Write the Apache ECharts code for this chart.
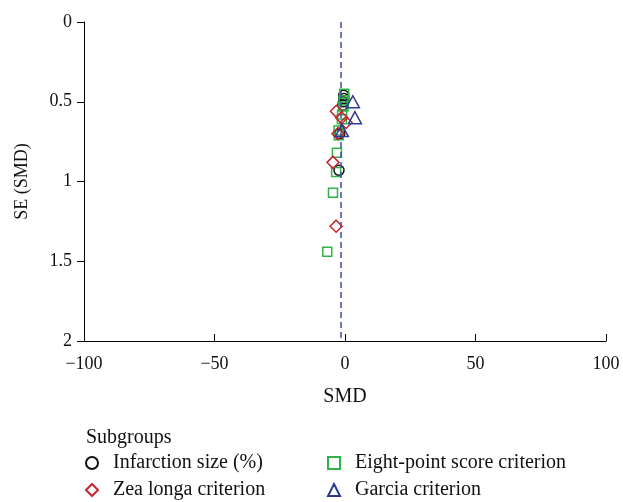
<!DOCTYPE html>
<html><head><meta charset="utf-8">
<script src="https://cdn.jsdelivr.net/npm/echarts@6/dist/echarts.min.js"></script>
<style>html,body{margin:0;padding:0;background:#fff}#c{width:623px;height:502px}</style>
</head><body><div id="c"></div>
<script>
// [SMD, SE(SMD)]
var infarction = [[-0.5,0.46],[-0.4,0.48],[-0.6,0.50],[-0.8,0.52],[-2.0,0.70],[-2.3,0.93]];
var eightPoint = [[-0.3,0.45],[-0.5,0.49],[-0.6,0.53],[-1.1,0.58],[-1.2,0.61],[-2.5,0.68],[-2.4,0.71],[-3.1,0.82],[-3.4,0.94],[-4.6,1.07],[-6.8,1.44]];
var zeaLonga = [[-3.3,0.56],[-1.3,0.60],[0.4,0.63],[-2.7,0.70],[-4.6,0.88],[-3.4,1.28]];
var garcia = [[3.0,0.50],[3.8,0.60],[-1.2,0.68]];
var pooledSMD = -1.5;
var xTicks = [-100,-50,0,50,100];
var yTicks = [0,0.5,1,1.5,2];
var names = ['Infarction size (%)','Eight-point score criterion','Zea longa criterion','Garcia criterion'];

var font = '"Liberation Serif", "DejaVu Serif", serif';
var chart = echarts.init(document.getElementById('c'), null, {renderer:'canvas'});
function sty(c){return {color:'rgba(0,0,0,0)', borderColor:c, borderWidth:1.5, opacity:1};}
function leg(name,left,top){
  return {data:[name],left:left,top:top,itemWidth:12,itemHeight:12,padding:0,
    textStyle:{fontFamily:font,fontSize:20,color:'#111',padding:[0,0,0,10]}};
}
chart.setOption({
  animation:false,
  backgroundColor:'#fff',
  grid:{left:84,right:17,top:22,bottom:161,containLabel:false},
  xAxis:{type:'value',min:xTicks[0],max:xTicks[xTicks.length-1],interval:50,
    name:'SMD',nameLocation:'middle',nameGap:46,
    nameTextStyle:{fontFamily:font,fontSize:20,color:'#111'},
    axisLine:{onZero:false,lineStyle:{color:'#000',width:1}},
    axisTick:{inside:true,length:7,lineStyle:{color:'#000'}},
    axisLabel:{fontFamily:font,fontSize:18,color:'#111',margin:14,
      formatter:function(v){return v<0?'\u2212'+Math.abs(v):String(v);}},
    splitLine:{show:false}},
  yAxis:{type:'value',inverse:true,min:yTicks[0],max:yTicks[yTicks.length-1],interval:0.5,
    name:'SE (SMD)',nameLocation:'middle',nameGap:53,nameRotate:90,
    nameTextStyle:{fontFamily:font,fontSize:18,color:'#111'},
    axisLine:{show:true,onZero:false,lineStyle:{color:'#000',width:1}},
    axisTick:{show:true,length:7,lineStyle:{color:'#000'}},
    axisLabel:{fontFamily:font,fontSize:18,color:'#111',margin:12},
    splitLine:{show:false}},
  title:{text:'Subgroups',left:86,top:428,padding:0,textStyle:{fontFamily:font,fontSize:20,fontWeight:'normal',color:'#111'}},
  legend:[
    leg(names[0],85,453),
    leg(names[1],327,453),
    leg(names[2],85,480),
    leg(names[3],327,480)
  ],
  series:[
    {name:names[0],type:'scatter',symbol:'circle',symbolSize:10,data:infarction,itemStyle:sty('#111'),z:3},
    {name:names[1],type:'scatter',symbol:'rect',symbolSize:9,data:eightPoint,itemStyle:sty('#2db34a'),z:4,
      markLine:{silent:true,symbol:'none',label:{show:false},lineStyle:{color:'#3c4ea6',type:[6,4],width:1.5},
        data:[[{coord:[pooledSMD,0]},{coord:[pooledSMD,2]}]]}},
    {name:names[2],type:'scatter',symbol:'diamond',symbolSize:[12,12],data:zeaLonga,itemStyle:sty('#c4262e'),z:5},
    {name:names[3],type:'scatter',symbol:'triangle',symbolSize:[13,12],data:garcia,itemStyle:sty('#2c3a96'),z:6}
  ]
});
</script></body></html>
